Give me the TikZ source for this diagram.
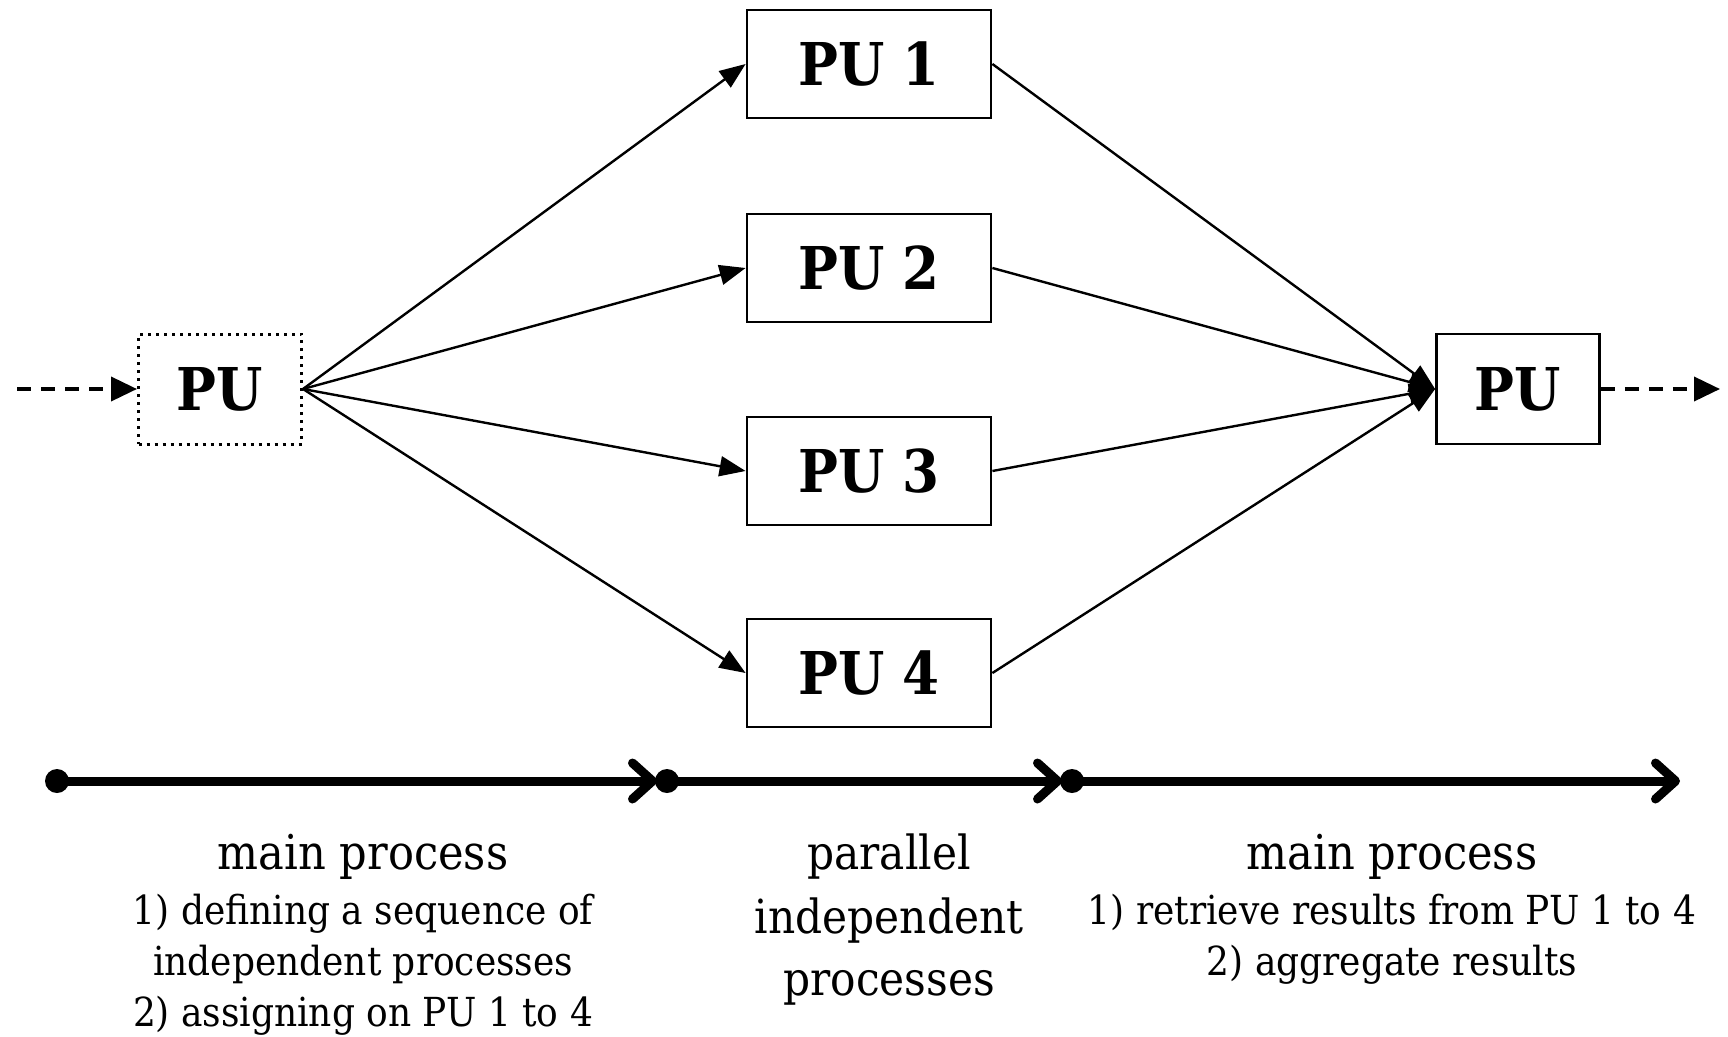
\documentclass[tikz,border=0pt]{standalone}
\usepackage{fontspec}
\setmainfont{DejaVu Serif Condensed}[BoldFont={DejaVu Serif Condensed Bold}]
\usetikzlibrary{arrows.meta}
\begin{document}
\begin{tikzpicture}[x=1pt,y=-1pt,
  pubox/.style={draw,line width=2.8pt,minimum width=244pt,minimum height=108pt,inner sep=0pt,
     font=\bfseries\fontsize{59}{70}\selectfont},
  endbox/.style={draw,line width=2.8pt,minimum width=163pt,minimum height=110pt,inner sep=0pt,
     font=\bfseries\fontsize{59}{70}\selectfont},
  link/.style={line width=2.4pt,-{Triangle[length=26pt,width=20pt]}},
  dasharrow/.style={line width=3.8pt,dash pattern=on 14pt off 10pt,-{Triangle[length=26pt,width=24pt]}},
  tline/.style={line width=9pt,-{Straight Barb[length=20pt,width=36pt,line cap=round,line join=round]}},
  titletext/.style={font=\fontsize{48}{60}\selectfont,inner sep=0pt,anchor=base},
  partext/.style={font=\fontsize{47}{60}\selectfont,inner sep=0pt,anchor=base},
  listtext/.style={font=\fontsize{40}{50}\selectfont,inner sep=0pt,anchor=base}
]
\useasboundingbox (0,0) rectangle (1728,1036);

\node[endbox,line width=3pt,dash pattern=on 3pt off 5pt] (pu0) at (220,389) {PU};
\node[endbox] (pue) at (1518,389) {PU};
\node[pubox] (pu1) at (869,64) {PU 1};
\node[pubox] (pu2) at (869,268) {PU 2};
\node[pubox] (pu3) at (869,471) {PU 3};
\node[pubox] (pu4) at (869,673) {PU 4};

\coordinate (inl) at (17,389);
\coordinate (outr) at (1720,389);
\draw[dasharrow] (inl) -- (pu0.west);
\draw[dasharrow] (pue.east) -- (outr);

\foreach \n in {1,2,3,4}{
  \draw[link] (pu0.east) -- (pu\n.west);
  \draw[link] (pu\n.east) -- (pue.west);
}

% timeline
\coordinate (t0) at (57,781);
\coordinate (t1) at (667,781);
\coordinate (t2) at (1072,781);
\coordinate (t3) at (1680,781);
\draw[tline,shorten >=10pt] (t0) -- (t1);
\draw[tline,shorten >=10pt] (t1) -- (t2);
\draw[tline] (t2) -- (t3);
\foreach \t in {t0,t1,t2}{\fill (\t) circle (12pt);}

\node[titletext] (m1) at (363,869) {main process};
\node[listtext] (l1a) at (363,924) {1) defining a sequence of};
\node[listtext] (l1b) at (363,975) {independent processes};
\node[listtext] (l1c) at (363,1026) {2) assigning on PU 1 to 4};

\node[partext] (m2a) at (889,869) {parallel};
\node[partext] (m2b) at (889,933) {independent};
\node[partext] (m2c) at (889,995) {processes};

\node[titletext] (m3) at (1392,869) {main process};
\node[listtext] (l3a) at (1392,924) {1) retrieve results from PU 1 to 4};
\node[listtext] (l3b) at (1392,975) {2) aggregate results};
\end{tikzpicture}
\end{document}
